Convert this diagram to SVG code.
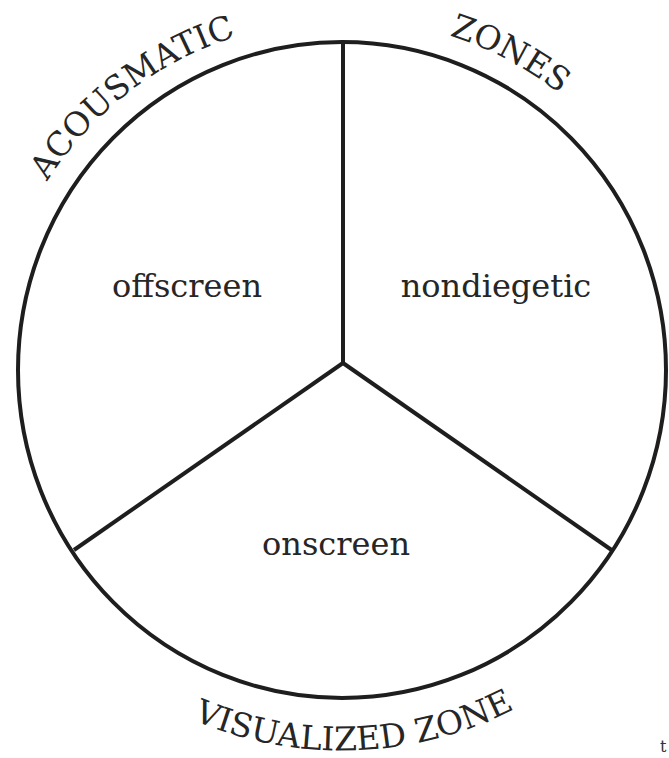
<svg xmlns="http://www.w3.org/2000/svg" width="669" height="758" viewBox="0 0 669 758">
<style>
.ln{fill:none;stroke:#1e1e1e;stroke-width:4;stroke-linecap:butt}
.lbl{font-family:"DejaVu Serif","Liberation Serif",serif;font-size:32px;fill:#262626;text-anchor:middle}
.arc{font-family:"DejaVu Serif","Liberation Serif",serif;font-size:33px;fill:#262626}
</style>
<defs>
<path id="pA" d="M 0.3 294.3 A 350 350 0 0 1 357.3 20.3"/>
<path id="pZ" d="M 269 27 A 350 350 0 0 1 668 238"/>
<path id="pV" d="M 108 670 A 380 380 0 0 0 596 653"/>
</defs>
<rect width="669" height="758" fill="#ffffff"/>
<g id="circle">
<ellipse class="ln" cx="342" cy="370" rx="324" ry="328"/>
</g>
<g id="connectors">
<line class="ln" x1="343" y1="41" x2="343" y2="364"/>
<line class="ln" x1="343" y1="363" x2="74" y2="550"/>
<line class="ln" x1="343" y1="363" x2="613" y2="551"/>
</g>
<g id="offscreen"><text class="lbl" x="187" y="297">offscreen</text></g>
<g id="nondiegetic"><text class="lbl" x="496" y="297">nondiegetic</text></g>
<g id="onscreen"><text class="lbl" x="336" y="555">onscreen</text></g>
<g id="acousmatic"><text class="arc"><textPath href="#pA" startOffset="50%" text-anchor="middle">ACOUSMATIC</textPath></text></g>
<g id="zones"><text class="arc"><textPath href="#pZ" startOffset="50%" text-anchor="middle">ZONES</textPath></text></g>
<g id="visualized"><text class="arc"><textPath href="#pV" startOffset="50%" text-anchor="middle">VISUALIZED ZONE</textPath></text></g>
<g id="corner"><text x="660" y="752" font-family="DejaVu Serif, serif" font-size="16" fill="#333">t</text></g>
</svg>
